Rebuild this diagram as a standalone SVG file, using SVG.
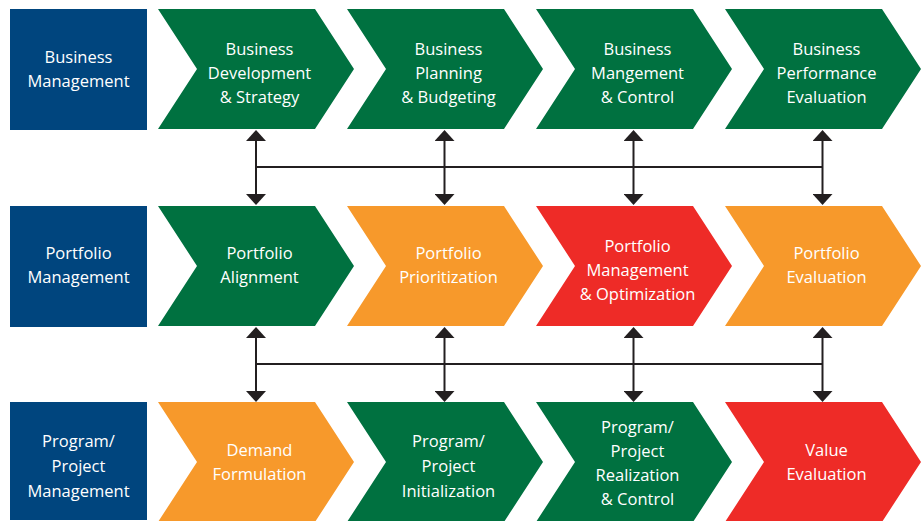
<svg xmlns="http://www.w3.org/2000/svg" width="923" height="521" viewBox="0 0 923 521">
<style>
.box{fill:#00457e}
.g{fill:#007140}
.o{fill:#f7992b}
.r{fill:#ee2b27}
text{font-family:"Open Sans","Noto Sans","Liberation Sans",sans-serif;font-size:16.5px;fill:#ffffff;text-anchor:middle}
.ln{stroke:#231f20;stroke-width:2;fill:none}
.hl{stroke:#231f20;stroke-width:1.8;fill:none}
</style>
<defs>
<marker id="ah" viewBox="0 0 11 20" refX="0" refY="10" markerWidth="11" markerHeight="20" markerUnits="userSpaceOnUse" orient="auto-start-reverse">
<path d="M0,0 L11,10 L0,20 Z" fill="#231f20"/>
</marker>
<path id="chev" d="M0,0 L157,0 L196,60 L157,120 L0,120 L39,60 Z"/>
</defs>
<rect width="923" height="521" fill="#ffffff"/>

<g id="row1-label"><rect class="box" x="10" y="9" width="137" height="121"/><text x="78.5" y="63">Business</text><text x="78.5" y="87">Management</text></g>
<g id="bus-dev"><use href="#chev" class="g" x="158" y="9"/><text x="259.5" y="55">Business</text><text x="259.5" y="79">Development</text><text x="259.5" y="103">&amp; Strategy</text></g>
<g id="bus-plan"><use href="#chev" class="g" x="347" y="9"/><text x="448.5" y="55">Business</text><text x="448.5" y="79">Planning</text><text x="448.5" y="103">&amp; Budgeting</text></g>
<g id="bus-mgmt"><use href="#chev" class="g" x="536" y="9"/><text x="637.5" y="55">Business</text><text x="637.5" y="79">Mangement</text><text x="637.5" y="103">&amp; Control</text></g>
<g id="bus-perf"><use href="#chev" class="g" x="725" y="9"/><text x="826.5" y="55">Business</text><text x="826.5" y="79">Performance</text><text x="826.5" y="103">Evaluation</text></g>

<g id="row2-label"><rect class="box" x="10" y="206" width="137" height="121"/><text x="78.5" y="259">Portfolio</text><text x="78.5" y="283">Management</text></g>
<g id="port-align"><use href="#chev" class="g" x="158" y="206"/><text x="259.5" y="259">Portfolio</text><text x="259.5" y="283">Alignment</text></g>
<g id="port-prio"><use href="#chev" class="o" x="347" y="206"/><text x="448.5" y="259">Portfolio</text><text x="448.5" y="283">Prioritization</text></g>
<g id="port-mgmt"><use href="#chev" class="r" x="536" y="206"/><text x="637.5" y="252">Portfolio</text><text x="637.5" y="276">Management</text><text x="637.5" y="300">&amp; Optimization</text></g>
<g id="port-eval"><use href="#chev" class="o" x="725" y="206"/><text x="826.5" y="259">Portfolio</text><text x="826.5" y="283">Evaluation</text></g>

<g id="row3-label"><rect class="box" x="10" y="402" width="137" height="118"/><text x="78.5" y="447">Program/</text><text x="78.5" y="472">Project</text><text x="78.5" y="497">Management</text></g>
<g id="demand"><use href="#chev" class="o" x="158" y="402" transform="translate(0,0)"/><text x="259.5" y="456">Demand</text><text x="259.5" y="480">Formulation</text></g>
<g id="prog-init"><use href="#chev" class="g" x="347" y="402"/><text x="448.5" y="447">Program/</text><text x="448.5" y="472">Project</text><text x="448.5" y="497">Initialization</text></g>
<g id="prog-real"><use href="#chev" class="g" x="536" y="402"/><text x="637.5" y="433">Program/</text><text x="637.5" y="457">Project</text><text x="637.5" y="481">Realization</text><text x="637.5" y="505">&amp; Control</text></g>
<g id="value-eval"><use href="#chev" class="r" x="725" y="402"/><text x="826.5" y="456">Value</text><text x="826.5" y="480">Evaluation</text></g>

<g id="connectors">
<path class="hl" d="M256,167 H823"/>
<path class="ln" d="M256,141 V194" marker-start="url(#ah)" marker-end="url(#ah)"/>
<path class="ln" d="M444.5,141 V194" marker-start="url(#ah)" marker-end="url(#ah)"/>
<path class="ln" d="M633.5,141 V194" marker-start="url(#ah)" marker-end="url(#ah)"/>
<path class="ln" d="M822.5,141 V194" marker-start="url(#ah)" marker-end="url(#ah)"/>
<path class="hl" d="M256,364 H823"/>
<path class="ln" d="M256,338 V391" marker-start="url(#ah)" marker-end="url(#ah)"/>
<path class="ln" d="M444.5,338 V391" marker-start="url(#ah)" marker-end="url(#ah)"/>
<path class="ln" d="M633.5,338 V391" marker-start="url(#ah)" marker-end="url(#ah)"/>
<path class="ln" d="M822.5,338 V391" marker-start="url(#ah)" marker-end="url(#ah)"/>
</g>
</svg>
